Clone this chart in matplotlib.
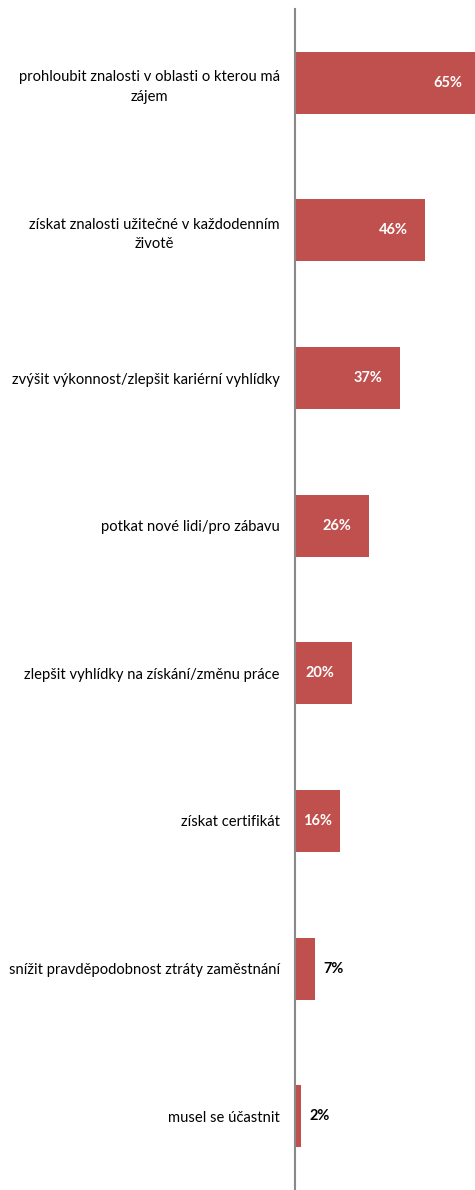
import matplotlib
matplotlib.use("Agg")
import matplotlib.pyplot as plt

# data
categories = [
    "prohloubit znalosti v oblasti o kterou má\nzájem",
    "získat znalosti užitečné v každodenním\nživotě",
    "zvýšit výkonnost/zlepšit kariérní vyhlídky",
    "potkat nové lidi/pro zábavu",
    "zlepšit vyhlídky na získání/změnu práce",
    "získat certifikát",
    "snížit pravděpodobnost ztráty zaměstnání",
    "musel se účastnit",
]
values = [65, 46, 37, 26, 20, 16, 7, 2]

plt.rcParams['font.family'] = ['Lato', 'DejaVu Sans']

fig = plt.figure(figsize=(4.75, 11.9), dpi=100)
ax = fig.add_axes([295 / 475, 0.0, 180 / 475, 1 - 9 / 1190])

y = list(range(len(categories)))
ax.barh(y, values, height=0.42, color="#C0504D", edgecolor="none")

ax.set_xlim(0, 63.6)
ax.set_ylim(7.5, -0.5)

ax.set_yticks(y)
ax.set_yticklabels(categories, fontsize=10.6, multialignment="center", linespacing=1.5)
ax.tick_params(axis="y", length=0, pad=11)
ax.set_xticks([])

for s in ["top", "right", "bottom"]:
    ax.spines[s].set_visible(False)
ax.spines["left"].set_color("#898989")
ax.spines["left"].set_linewidth(1.5)

for yi, v in zip(y, values):
    if v >= 20:
        # inside, near the bar end
        ax.annotate(f"{v}%", xy=(v, yi), xytext=(-17, 0), textcoords="offset pixels",
                    ha="right", va="center", color="white", fontsize=10.5,
                    fontweight="bold", annotation_clip=False)
    elif v >= 10:
        # too short for inside-end, centered
        ax.text(v / 2, yi, f"{v}%", ha="center", va="center", color="white",
                fontsize=10.5, fontweight="bold")
    else:
        ax.annotate(f"{v}%", xy=(v, yi), xytext=(9, 0), textcoords="offset pixels",
                    ha="left", va="center", color="black", fontsize=10.5,
                    fontweight="bold")

fig.savefig("out.png", dpi=100)
